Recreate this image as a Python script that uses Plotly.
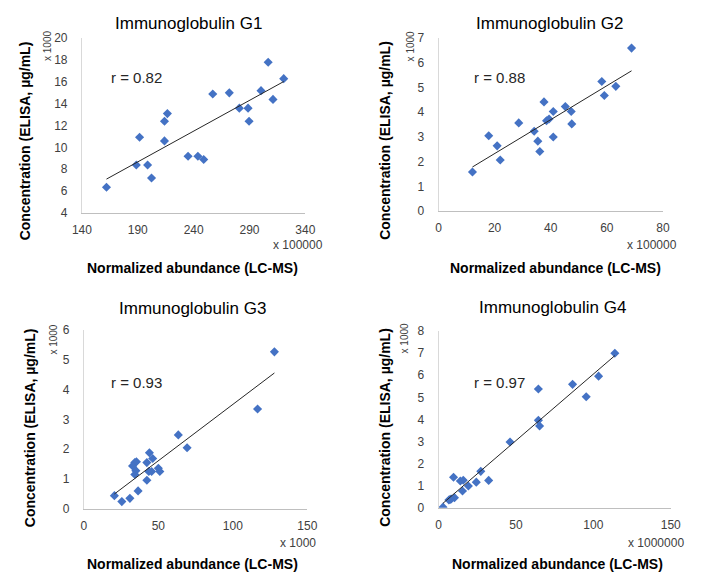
import numpy as np
import plotly.graph_objects as go

# ---- data (display units: x scaled by the multiplier label, y in x1000 ug/mL) ----
g1_x = [162, 191.6, 188.7, 198.8, 202.3, 213.9, 216.5, 213.9, 235, 243.8, 249, 257.1, 271.9, 280.9, 288.7, 289.6, 300.3, 306.7, 311, 320.6]
g1_y = [6.36, 10.94, 8.4, 8.4, 7.2, 12.4, 13.1, 10.6, 9.2, 9.2, 8.9, 14.9, 15.0, 13.6, 13.6, 12.4, 15.2, 17.8, 14.4, 16.3]

g2_x = [12.1, 17.9, 20.9, 22.0, 28.6, 34.1, 35.4, 36.1, 37.6, 38.5, 39.4, 40.9, 40.9, 45.2, 47.3, 47.5, 58.2, 59.1, 63.2, 68.8]
g2_y = [1.58, 3.05, 2.64, 2.07, 3.57, 3.23, 2.83, 2.41, 4.42, 3.66, 3.73, 4.03, 3.0, 4.23, 4.03, 3.53, 5.25, 4.68, 5.05, 6.6]

g3_x = [20.5, 25.5, 30.9, 36.4, 32.7, 34.2, 34.9, 34.2, 35.3, 42.3, 42.3, 43.6, 44.0, 45.5, 46.2, 50.0, 51.0, 63.4, 69.3, 116.6, 127.9]
g3_y = [0.44, 0.24, 0.35, 0.60, 1.44, 1.55, 1.28, 1.15, 1.58, 1.55, 0.96, 1.25, 1.88, 1.25, 1.69, 1.36, 1.25, 2.48, 2.05, 3.35, 5.27]

g4_x = [2.9, 6.7, 8.2, 10.3, 9.7, 14.1, 16.0, 15.5, 19.3, 24.4, 27.3, 32.4, 46.2, 64.5, 64.5, 65.3, 86.6, 95.4, 103.4, 113.9, 7.5]
g4_y = [0.03, 0.35, 0.40, 0.46, 1.38, 1.21, 1.25, 0.76, 0.99, 1.16, 1.65, 1.24, 2.98, 5.38, 3.96, 3.70, 5.59, 5.03, 5.96, 7.00, 0.38]

titles = ["Immunoglobulin G1", "Immunoglobulin G2", "Immunoglobulin G3", "Immunoglobulin G4"]
r_labels = ["r = 0.82", "r = 0.88", "r = 0.93", "r = 0.97"]
x_units = ["x 100000", "x 100000", "x 1000", "x 1000000"]
y_unit = "x 1000"
x_title = "Normalized abundance (LC-MS)"
y_title = "Concentration (ELISA, µg/mL)"

x_ranges = [[140, 340], [0, 80], [0, 150], [0, 150]]
x_dticks = [50, 20, 50, 50]
y_ranges = [[4, 20], [0, 7], [0, 6], [0, 8]]
y_dticks = [2, 1, 1, 1]

W, H = 706, 588
# plot area pixel boxes: (left, right, top, bottom)
boxes = [(74, 304, 32, 211), (441, 672, 32, 209), (76, 306, 331, 514), (441, 680, 332, 513)]
# text positions (pixels)
title_pos = [(184, 17), (555, 17), (188, 309), (558, 308)]
r_pos = [(130, 72), (504, 72), (130, 385), (504, 385)]
ytitle_pos = [(15, 137), (386, 137), (20, 431), (386, 431)]
yunit_pos = [(38, 40), (412, 40), (45, 341), (406, 339)]
xtitle_pos = [(188, 267), (561, 267), (188, 571), (563, 571)]
xunit_pos = [(324, 244), (688, 244), (317, 549), (696, 549)]

FONT = "Liberation Sans, Arial, sans-serif"
MARK = "#4472C4"

xs = [g1_x, g2_x, g3_x, g4_x]
ys = [g1_y, g2_y, g3_y, g4_y]

fig = go.Figure()
layout = dict(width=W, height=H, margin=dict(l=0, r=0, t=0, b=0),
              paper_bgcolor="white", plot_bgcolor="white", showlegend=False,
              font=dict(family=FONT, color="#404040", size=12))
annotations = []

def px(x):
    return x / W

def py(y):
    return 1 - y / H

for i in range(4):
    ax = "" if i == 0 else str(i + 1)
    l, r, t, b = boxes[i]
    x = np.array(xs[i]); y = np.array(ys[i])
    fig.add_trace(go.Scatter(x=x, y=y, mode="markers", xaxis="x" + ax, yaxis="y" + ax,
                             marker=dict(symbol="diamond", size=7, color=MARK, line=dict(width=0))))
    k, c = np.polyfit(x, y, 1)
    xl = np.array([x.min(), x.max()])
    fig.add_trace(go.Scatter(x=xl, y=k * xl + c, mode="lines", xaxis="x" + ax, yaxis="y" + ax,
                             line=dict(color="#262626", width=1)))
    layout["xaxis" + ax] = dict(domain=[px(l), px(r)], range=x_ranges[i], dtick=x_dticks[i],
                                tick0=x_ranges[i][0],
                                anchor="y" + ax, showline=True, linecolor="#bfbfbf", linewidth=1,
                                showgrid=False, zeroline=False, ticks="outside", ticklen=6,
                                tickcolor="rgba(0,0,0,0)", tickfont=dict(size=12, color="#404040"))
    layout["yaxis" + ax] = dict(domain=[py(b), py(t)], range=y_ranges[i], dtick=y_dticks[i],
                                tick0=y_ranges[i][0],
                                anchor="x" + ax, showline=True, linecolor="#d9d9d9", linewidth=1,
                                showgrid=False, zeroline=False, ticks="outside", ticklen=11,
                                tickcolor="rgba(0,0,0,0)", tickfont=dict(size=12, color="#404040"))
    annotations.append(dict(text=titles[i], x=px(title_pos[i][0]), y=py(title_pos[i][1]), xref="paper", yref="paper",
                            showarrow=False, xanchor="center", yanchor="middle",
                            font=dict(size=17, color="#000000", family=FONT)))
    annotations.append(dict(text=r_labels[i], x=px(r_pos[i][0]), y=py(r_pos[i][1]), xref="paper", yref="paper",
                            showarrow=False, xanchor="center", yanchor="middle",
                            font=dict(size=15, color="#262626", family=FONT)))
    annotations.append(dict(text="<b>" + y_title + "</b>", x=px(ytitle_pos[i][0]), y=py(ytitle_pos[i][1]),
                            xref="paper", yref="paper", showarrow=False, textangle=-90,
                            xanchor="center", yanchor="middle",
                            font=dict(size=14, color="#000000", family=FONT)))
    annotations.append(dict(text=y_unit, x=px(yunit_pos[i][0]), y=py(yunit_pos[i][1]),
                            xref="paper", yref="paper", showarrow=False, textangle=-90,
                            xanchor="center", yanchor="middle",
                            font=dict(size=10, color="#404040", family="Liberation Sans Narrow, " + FONT)))
    annotations.append(dict(text="<b>" + x_title + "</b>", x=px(xtitle_pos[i][0]), y=py(xtitle_pos[i][1]),
                            xref="paper", yref="paper", showarrow=False, xanchor="center", yanchor="middle",
                            font=dict(size=14, color="#000000", family=FONT)))
    annotations.append(dict(text=x_units[i], x=px(xunit_pos[i][0]), y=py(xunit_pos[i][1]),
                            xref="paper", yref="paper", showarrow=False, xanchor="right", yanchor="middle",
                            font=dict(size=12, color="#404040", family=FONT)))

layout["annotations"] = annotations
fig.update_layout(**layout)
fig.write_html("out.html", config={"displayModeBar": False},
               post_script="document.body.style.margin='0';document.body.style.overflow='hidden';")
